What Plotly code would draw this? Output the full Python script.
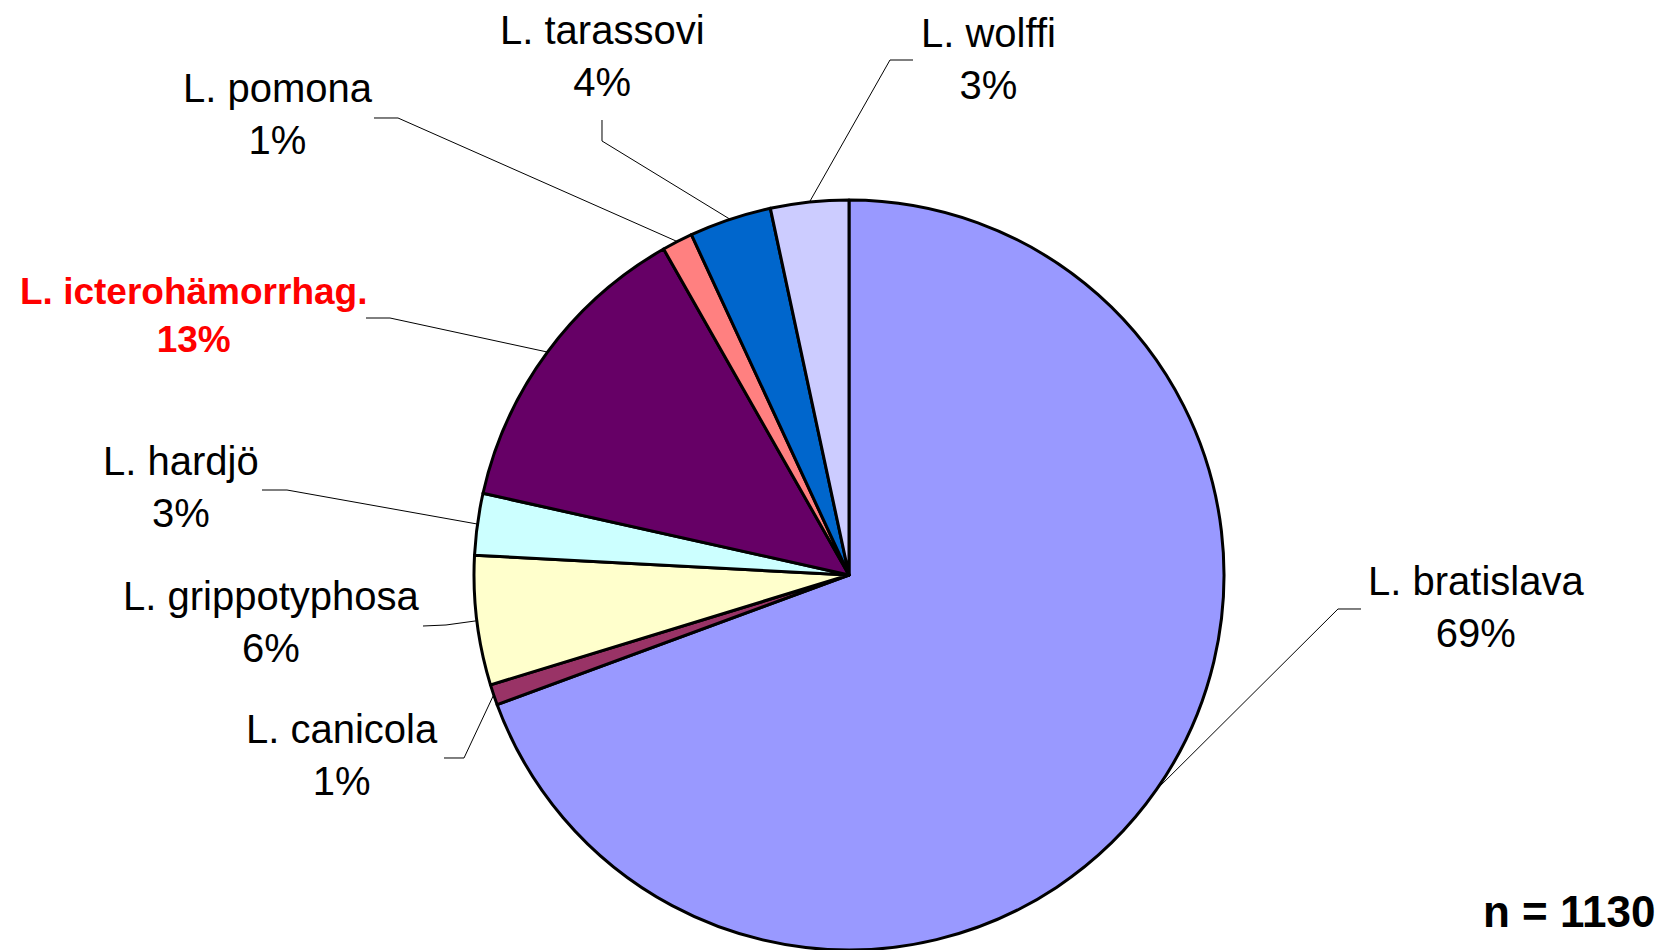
import math
import plotly.graph_objects as go

# Serovar distribution (counts), clockwise from 12 o'clock
serovars = ["L. bratislava", "L. canicola", "L. grippotyphosa", "L. hardjö",
            "L. icterohämorrhag.", "L. pomona", "L. tarassovi", "L. wolffi"]
counts = [784, 10, 63, 30, 150, 15, 40, 38]
colors = ["#9999FF", "#993366", "#FFFFCC", "#CCFFFF",
          "#660066", "#FF8080", "#0066CC", "#CCCCFF"]
highlight = "L. icterohämorrhag."

W, H = 1665, 950
CX, CY, R = 849, 575, 375  # pie centre and radius in pixels

# Label block centres and leader-line elbows/ends (pixels)
label_pos = {
    "L. bratislava": (1476, 607),
    "L. canicola": (342, 755),
    "L. grippotyphosa": (271, 622),
    "L. hardjö": (181, 487),
    "L. icterohämorrhag.": (193, 316),
    "L. pomona": (278, 114),
    "L. tarassovi": (602, 56),
    "L. wolffi": (988, 59),
}
leader_path = {
    "L. bratislava": [(1338, 609), (1361, 609)],
    "L. canicola": [(464, 758), (444, 758)],
    "L. grippotyphosa": [(446, 625), (423, 626)],
    "L. hardjö": [(287, 490), (262, 490)],
    "L. icterohämorrhag.": [(390, 318), (366, 318)],
    "L. pomona": [(398, 118), (374, 118)],
    "L. tarassovi": [(602, 141), (602, 120)],
    "L. wolffi": [(890, 60), (913, 60)],
}


def px(x, y):
    return x / W, 1 - y / H


FONT = "Liberation Sans, Arial, Helvetica, sans-serif"
total = sum(counts)

fig = go.Figure(go.Pie(
    labels=serovars,
    values=counts,
    marker=dict(colors=colors, line=dict(color="#000000", width=3)),
    sort=False,
    direction="clockwise",
    rotation=0,
    textinfo="none",
    hoverinfo="label+value+percent",
    showlegend=False,
    domain=dict(x=[(CX - R) / W, (CX + R) / W],
                y=[1 - (CY + R) / H, 1 - (CY - R) / H]),
))

shapes = []
annotations = []
cum = 0
for name, v in zip(serovars, counts):
    mid = (cum + v / 2) / total * 2 * math.pi
    cum += v
    ex = CX + R * math.sin(mid)
    ey = CY - R * math.cos(mid)
    pts = [(ex, ey)] + leader_path[name]
    path = "M " + " L ".join(f"{px(a, b)[0]:.5f},{px(a, b)[1]:.5f}" for a, b in pts)
    shapes.append(dict(type="path", path=path, xref="paper", yref="paper",
                       line=dict(color="#000000", width=1)))
    pct = round(100 * v / total)
    lx, ly = px(*label_pos[name])
    if name == highlight:
        text = f"<b>{name}<br>{pct}%</b>"
        font = dict(family=FONT, size=37, color="#FF0000")
    else:
        text = f"{name}<br>{pct}%"
        font = dict(family=FONT, size=40, color="#000000")
    annotations.append(dict(x=lx, y=ly, xref="paper", yref="paper", text=text,
                            showarrow=False, xanchor="center", yanchor="middle",
                            align="center", font=font))

nx, ny = px(1657, 911)
annotations.append(dict(x=nx, y=ny, xref="paper", yref="paper",
                        text=f"<b>n = {total}</b>", showarrow=False,
                        xanchor="right", yanchor="middle",
                        font=dict(family=FONT, size=44, color="#000000")))

fig.update_layout(
    width=W, height=H,
    margin=dict(l=0, r=0, t=0, b=0),
    paper_bgcolor="#FFFFFF",
    plot_bgcolor="#FFFFFF",
    shapes=shapes,
    annotations=annotations,
)

fig.write_html("out.html")
